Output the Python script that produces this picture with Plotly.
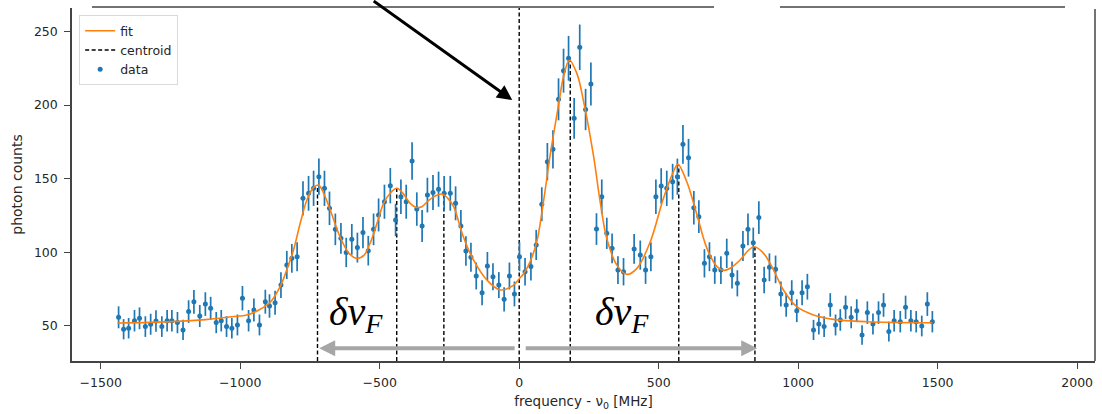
import numpy as np
import plotly.graph_objects as go

# ---- data ----
data_x = [-1436, -1418, -1400, -1379, -1361, -1340, -1321, -1302, -1281, -1262,
          -1245, -1225, -1205, -1185, -1166, -1145, -1125, -1106, -1086, -1068,
          -1049, -1030, -1010, -992, -970, -951, -931, -910, -895, -875,
          -854, -833, -815, -796,
          -775, -755, -737, -718, -698, -680, -659, -639, -620, -600,
          -580, -560, -541, -522, -504, -483, -462, -443, -424, -405,
          -384, -367, -348, -329, -309, -289, -269, -247, -228, -209,
          -191, -173, -154, -133, -114, -94, -73, -54, -35, -17,
          1, 21, 42, 61, 81, 101, 121, 141, 159, 177,
          197, 217, 238, 257, 277, 296, 314, 333, 354, 374,
          412, 434, 453, 472, 490, 509, 529, 550, 567, 587,
          607, 626, 644, 664, 682, 701,
          723, 744, 763, 782, 802, 820, 839, 859, 878, 897,
          919, 938, 957, 977, 995, 1014, 1033, 1055, 1074, 1093,
          1115, 1134, 1151, 1170, 1190, 1210, 1229, 1248, 1268, 1288,
          1306, 1325, 1344, 1366, 1385, 1404, 1423, 1443, 1463, 1481]
data_y = [55.7, 47.6, 48.3, 53.4, 55.0, 49.4, 51.0, 53.2, 49.4, 53.4,
          53.4, 52.1, 47.1, 59.6, 66.2, 56.6, 64.7, 61.8, 52.1, 53.4,
          49.4, 48.3, 50.5, 68.7, 53.4, 60.7, 50.5, 66.3, 63.4, 65.6,
          77.6, 91.3, 95.8, 96.9,
          136.6, 140.0, 143.4, 151.3, 143.4, 129.8, 115.5, 109.4, 99.8, 108.7,
          103.1, 113.3, 101.0, 115.5, 125.3, 134.3, 145.2, 121.9, 137.7, 134.3,
          162.0, 129.3, 117.8, 138.8, 140.6, 142.8, 140.0, 140.0, 133.2, 117.8,
          100.8, 96.5, 83.8, 72.4, 90.6, 83.3, 77.6, 67.9, 83.8, 71.6,
          96.9, 86.7, 90.2, 104.9, 132.6, 161.5, 169.9, 203.9, 223.4, 231.8,
          191.0, 239.3, 197.0, 214.3, 115.7, 137.7, 112.8, 102.6, 87.8, 86.7,
          102.2, 98.0, 87.8, 96.9, 137.7, 145.0, 143.4, 147.9, 151.3, 173.3,
          164.2, 130.2, 124.1, 92.4, 96.9, 87.8,
          87.8, 99.2, 84.5, 78.8, 104.2, 115.5, 106.4, 123.5, 81.1, 89.7,
          88.3, 71.6, 64.1, 72.4, 60.2, 72.4, 76.5, 47.1, 51.2, 49.4,
          64.1, 50.5, 53.9, 62.5, 55.7, 60.2, 43.7, 58.9, 51.2, 58.9,
          64.1, 46.0, 53.4, 52.7, 62.5, 53.4, 52.7, 49.8, 64.7, 52.7]

fit_x = [-1440, -1245, -1125, -1030, -976, -930, -890, -857, -833, -809, -785,
         -761, -737, -719, -700, -677, -642, -610, -582, -555, -534, -510, -486,
         -460, -438, -415, -391, -370, -349, -328, -307, -277, -256, -235,
         -200, -164, -116, -68, -20, 1, 15, 39, 63, 87, 111, 141, 159, 180,
         207, 230, 266, 290, 314, 350, 386, 422, 470, 517, 553, 569, 601,
         637, 673, 709, 735, 756, 792, 822, 842, 876, 912, 947, 995, 1055,
         1127, 1246, 1481]
fit_y = [51.8, 52.8, 54.1, 56.1, 57.3, 61.0, 66.5, 76.5, 88.0, 101.5, 119.6,
         135.5, 144.0, 145.6, 139.6, 128.5, 110.3, 99.2, 95.8, 98.2, 106.3, 119.4, 133.2,
         140.6, 143.4, 139.6, 133.2, 130.5, 130.9, 134.6, 137.6, 139.5, 136.6, 130.9,
         110.3, 94.7, 81.1, 74.3, 77.6, 82.1, 85.1, 93.5, 107.1, 134.3, 165.9, 200.0, 219.4, 230.5,
         221.4, 203.2, 165.9, 134.6, 109.3, 91.2, 84.9, 89.0, 107.1, 136.6, 154.8, 159.7, 147.7,
         125.5, 102.6, 90.2, 87.6, 89.1, 94.7, 101.3, 103.7, 99.2, 87.8, 74.3, 62.9, 57.3,
         54.3, 52.7, 52.0]

centroid_x = [-723, -439, -270, 0, 183, 572, 845]
centroid_top = [145.7, 143.4, 139.0, 266.0, 230.5, 159.5, 103.7]

x_ticks = [-1500, -1000, -500, 0, 500, 1000, 1500, 2000]
y_ticks = [50, 100, 150, 200, 250]

X_RANGE = [-1603, 2064]
Y_RANGE = [26.0, 266.0]

data_err = np.sqrt(np.array(data_y))  # Poisson error bars

# centroid segments
cx, cy = [], []
for c, t in zip(centroid_x, centroid_top):
    cx += [c, c, None]
    cy += [Y_RANGE[0], t, None]

fig = go.Figure()
fig.add_trace(go.Scatter(
    x=cx, y=cy, mode="lines", name="centroid", legendrank=2,
    line=dict(color="black", width=1.4, dash="4px,2.5px"),
))
fig.add_trace(go.Scatter(
    x=data_x, y=data_y, mode="markers", name="data", legendrank=3,
    marker=dict(color="#1f77b4", size=5),
    error_y=dict(type="data", array=data_err, visible=True,
                 color="#1f77b4", thickness=1.7, width=0),
))
fig.add_trace(go.Scatter(
    x=fit_x, y=fit_y, mode="lines", name="fit", legendrank=1,
    line=dict(color="#ff7f0e", width=1.6, shape="spline", smoothing=1.0),
))

annotations = []
# gray arrows at bottom
ARROW_Y = 34.6
annotations.append(dict(x=-717, y=ARROW_Y, ax=-11, ay=ARROW_Y, xref="x", yref="y",
                        axref="x", ayref="y", text="", showarrow=True,
                        arrowhead=2, arrowsize=0.8, arrowwidth=4, arrowcolor="#a6a6a6"))
annotations.append(dict(x=853, y=ARROW_Y, ax=18, ay=ARROW_Y, xref="x", yref="y",
                        axref="x", ayref="y", text="", showarrow=True,
                        arrowhead=2, arrowsize=0.8, arrowwidth=4, arrowcolor="#a6a6a6"))
# black arrow pointing at the centroid
annotations.append(dict(x=-25, y=203.4, ax=-140, ay=-112, xref="x", yref="y",
                        text="", showarrow=True, arrowhead=2, arrowsize=1.0,
                        arrowwidth=3, arrowcolor="black"))
# delta nu_F labels
for xl in [-690, 265]:
    annotations.append(dict(x=xl, y=58.0, xref="x", yref="y", xanchor="left",
                            yanchor="middle", showarrow=False,
                            text="<i>δν<sub>F</sub></i>",
                            font=dict(family="Liberation Serif", size=40, color="black")))

shapes = [
    # right spine
    dict(type="line", xref="paper", yref="paper", x0=1, x1=1, y0=0, y1=0.997,
         line=dict(color="#444", width=1.5)),
    # top spine segments (with gaps like the reference)
    dict(type="line", xref="paper", yref="paper", x0=(92 - 72) / 1023, x1=(714 - 72) / 1023,
         y0=1.003, y1=1.003, line=dict(color="#444", width=1.5)),
    dict(type="line", xref="paper", yref="paper", x0=(780 - 72) / 1023, x1=(1065 - 72) / 1023,
         y0=1.003, y1=1.003, line=dict(color="#444", width=1.5)),
]

fig.update_layout(
    width=1102, height=414,
    margin=dict(l=72, r=7, t=8, b=53, autoexpand=False),
    paper_bgcolor="white", plot_bgcolor="white",
    font=dict(family="DejaVu Sans", size=12.5, color="#262626"),
    showlegend=True,
    legend=dict(x=0.007, y=0.98, xanchor="left", yanchor="top",
                bgcolor="rgba(255,255,255,0.9)", bordercolor="#d9d9d9", borderwidth=1,
                font=dict(size=12.5, color="#262626")),
    annotations=annotations,
    shapes=shapes,
)
fig.update_xaxes(range=X_RANGE, tickvals=x_ticks,
                 ticktext=[("−" + str(-v)) if v < 0 else str(v) for v in x_ticks],
                 showgrid=False, zeroline=False, showline=True, linecolor="#444", linewidth=1.5,
                 ticks="outside", ticklen=6, tickcolor="#444", ticklabelstandoff=3,
                 automargin=False, tickfont=dict(size=12.5),
                 title=dict(text="frequency - ν<sub>0</sub> [MHz]", standoff=8, font=dict(size=13.5)))
fig.update_yaxes(range=Y_RANGE, tickvals=y_ticks,
                 showgrid=False, zeroline=False, showline=True, linecolor="#444", linewidth=1.5,
                 ticks="outside", ticklen=6, tickcolor="#444", ticklabelstandoff=4,
                 automargin=False, tickfont=dict(size=12.5),
                 title=dict(text="photon counts", standoff=8, font=dict(size=14)))

fig.write_html("out.html", config={"displayModeBar": False},
               post_script="document.body.style.margin='0px';")
